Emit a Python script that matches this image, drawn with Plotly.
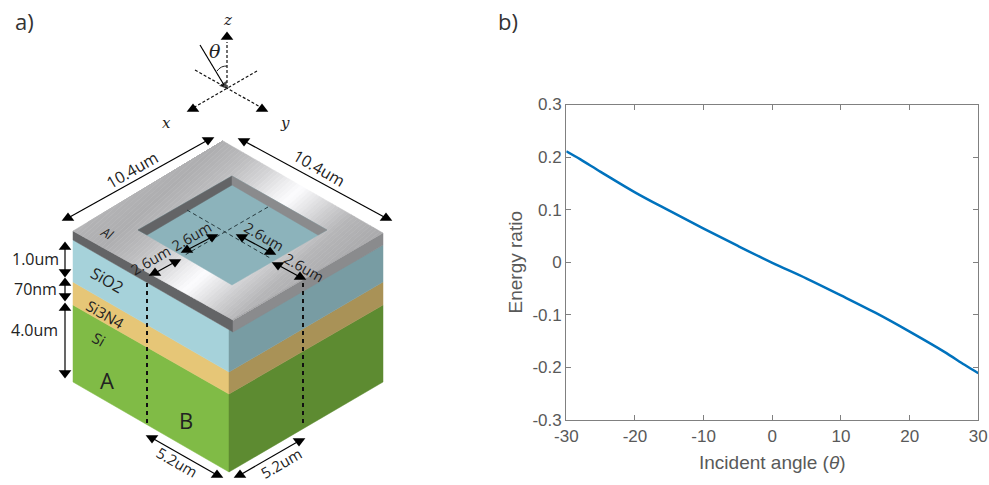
import plotly.graph_objects as go

W, H = 989, 485

# ---- chart b) data ----
angle = [-30, -28, -25, -20, -15, -10, -5, 0, 5, 10, 15, 20, 25, 28, 30]
energy_ratio = [0.211, 0.196, 0.172, 0.133, 0.098, 0.064, 0.031, -0.001,
                -0.031, -0.063, -0.096, -0.132, -0.170, -0.195, -0.211]
x_ticks = [-30, -20, -10, 0, 10, 20, 30]
x_tick_labels = ["-30", "-20", "-10", "0", "10", "20", "30"]
y_ticks = [-0.3, -0.2, -0.1, 0, 0.1, 0.2, 0.3]
y_tick_labels = ["-0.3", "-0.2", "-0.1", "0", "0.1", "0.2", "0.3"]

# ---- diagram a) geometry, in picture pixels ----
side_layers = [
    ("#80BB46", [(73, 305), (229, 394), (229, 472), (73, 382)]),
    ("#5D8B31", [(229, 394), (383, 305), (383, 382), (229, 472)]),
    ("#E6C677", [(73, 282), (229, 372), (229, 394), (73, 305)]),
    ("#A99257", [(229, 372), (383, 282), (383, 305), (229, 394)]),
    ("#A6D2DA", [(73, 240), (229, 330), (229, 372), (73, 282)]),
    ("#789CA3", [(229, 330), (383, 245), (383, 282), (229, 372)]),
    ("#636466", [(73, 231), (233, 320), (233, 332), (73, 240)]),
    ("#8A8B8D", [(233, 320), (383, 233), (383, 245), (233, 332)]),
]
hole_layers = [
    ("#8CB3BB", [(138, 230), (232, 176), (327, 230), (232, 285)]),
    ("#636466", [(138, 230), (232, 176), (232, 185), (147, 235)]),
    ("#8A8B8D", [(232, 176), (327, 230), (318, 235), (232, 185)]),
]
# Al top face: corners back, right, left, front
top_back, top_right, top_left, top_front = (223, 141), (383, 233), (73, 231), (233, 320)
# sheen across the Al face: (position, grey level)
sheen_stops = [(-0.19, 180), (0.0, 174), (0.15, 188), (0.3, 212), (0.42, 238), (0.5, 252),
               (0.6, 228), (0.72, 200), (0.81, 182), (1.0, 170)]
sheen_skew = 0.19
sheen_strips = 60

dashed_thin = [
    [(187, 210), (270, 258)],
    [(268, 207), (185, 255)],
]
dashed_drop = [
    [(147, 283), (147, 423)],
    [(303, 283), (303, 427)],
]
dotted_axes = [
    [(227, 88), (227, 42)],
    [(257, 71), (193, 108)],
    [(195, 70), (262, 108)],
]
double_arrows = [
    [(68, 218), (208, 140)],
    [(244, 141), (386, 218)],
    [(65, 247), (65, 272)],
    [(65, 283), (65, 296)],
    [(65, 308), (65, 373)],
    [(152, 438), (217, 475)],
    [(240, 475), (299, 441)],
    [(155, 273), (175, 262)],
    [(187, 250), (212, 237)],
    [(242, 237), (270, 252)],
    [(278, 265), (300, 277)],
]
arrow_symbols = [
    ("triangle-up", "triangle-down"),
    ("triangle-down", "triangle-up"),
    ("triangle-up", "triangle-down"),
    ("triangle-up", "triangle-down"),
    ("triangle-up", "triangle-down"),
    ("triangle-down", "triangle-up"),
    ("triangle-up", "triangle-down"),
    ("triangle-up", "triangle-down"),
    ("triangle-up", "triangle-down"),
    ("triangle-down", "triangle-up"),
    ("triangle-down", "triangle-up"),
]
axis_heads = [(227, 37), (193, 109), (262, 109)]
incident_ray = [(200, 45), (224, 85)]
theta_arc = [(217, 71), (220, 68), (223, 66.5), (227, 66)]

labels = [
    ("a)", 24, 21, 22, 0, "#333333", "Open Sans"),
    ("b)", 508, 21, 22, 0, "#333333", "Open Sans"),
    ("<i>z</i>", 227, 20, 15, 0, "#222222", "DejaVu Serif"),
    ("<i>x</i>", 166, 123, 15, 0, "#222222", "DejaVu Serif"),
    ("<i>y</i>", 285, 123, 15, 0, "#222222", "DejaVu Serif"),
    ("<i>θ</i>", 215, 51, 19, 0, "#222222", "DejaVu Serif"),
    ("10.4um", 132, 170, 16, -30, "#222222", "Open Sans"),
    ("10.4um", 319, 168, 16, 30, "#222222", "Open Sans"),
    ("<i>Al</i>", 107, 233, 13, 30, "#222222", "Open Sans"),
    ("1.0um", 35, 259, 16, 0, "#222222", "Open Sans"),
    ("70nm", 35, 289, 16, 0, "#222222", "Open Sans"),
    ("4.0um", 34, 330, 16, 0, "#222222", "Open Sans"),
    ("SiO2", 107, 280, 16, 30, "#222222", "Open Sans"),
    ("Si3N4", 105, 314, 15, 30, "#222222", "Open Sans"),
    ("Si", 99, 339, 15, 30, "#222222", "Open Sans"),
    ("A", 107, 380, 22, 0, "#222222", "Open Sans"),
    ("B", 186, 420, 22, 0, "#222222", "Open Sans"),
    ("5.2um", 177, 462, 15, 30, "#222222", "Open Sans"),
    ("5.2um", 281, 463, 15, -30, "#222222", "Open Sans"),
    ("2.6um", 150, 260, 14.5, -30, "#222222", "Open Sans"),
    ("2.6um", 191, 236, 14.5, -30, "#222222", "Open Sans"),
    ("2.6um", 264, 236, 14.5, 30, "#222222", "Open Sans"),
    ("2.6um", 304, 267, 14.5, 30, "#222222", "Open Sans"),
]

fig = go.Figure()


def xs(pts, close=False):
    v = [p[0] for p in pts]
    return v + v[:1] if close else v


def ys(pts, close=False):
    v = [p[1] for p in pts]
    return v + v[:1] if close else v


def add(**kw):
    fig.add_trace(go.Scatter(xaxis="x2", yaxis="y2", showlegend=False,
                             hoverinfo="skip", **kw))


def poly(colour, pts):
    add(x=xs(pts, True), y=ys(pts, True), mode="lines", fill="toself",
        fillcolor=colour, line=dict(color=colour, width=0.5))


def top_point(u, v):
    # bilinear position on the Al face: u runs back->right, v runs back->left
    u = min(1.0, max(0.0, u))
    px = [(1 - u) * a + u * b for a, b in zip(top_back, top_right)]
    qx = [(1 - u) * a + u * b for a, b in zip(top_left, top_front)]
    return tuple((1 - v) * a + v * b for a, b in zip(px, qx))


def sheen_grey(s):
    for (a, ga), (b, gb) in zip(sheen_stops, sheen_stops[1:]):
        if s <= b:
            return round(ga + (gb - ga) * (s - a) / (b - a))
    return sheen_stops[-1][1]


for colour, pts in side_layers:
    poly(colour, pts)

first, last = sheen_stops[0][0], sheen_stops[-1][0]
step = (last - first) / sheen_strips
for i in range(sheen_strips):
    s0 = first + i * step
    s1 = s0 + step
    vs = [k / 10 for k in range(11)]
    outline = [top_point(s0 + sheen_skew * v, v) for v in vs] + \
              [top_point(s1 + sheen_skew * v, v) for v in reversed(vs)]
    g = sheen_grey((s0 + s1) / 2)
    poly(f"rgb({g},{g},{min(255, g + 2)})", outline)

for colour, pts in hole_layers:
    poly(colour, pts)

for seg in dashed_thin:
    add(x=xs(seg), y=ys(seg), mode="lines",
        line=dict(color="#26393D", width=1, dash="4px,3px"))
for seg in dashed_drop:
    add(x=xs(seg), y=ys(seg), mode="lines",
        line=dict(color="#111111", width=2, dash="4px,4px"))
for seg in dotted_axes:
    add(x=xs(seg), y=ys(seg), mode="lines",
        line=dict(color="#111111", width=1.2, dash="3px,2px"))

for seg, syms in zip(double_arrows, arrow_symbols):
    add(x=xs(seg), y=ys(seg), mode="lines+markers",
        line=dict(color="#000000", width=1.2),
        marker=dict(symbol=list(syms), size=11, color="#000000", line=dict(width=0)))

add(x=xs(axis_heads), y=ys(axis_heads), mode="markers",
    marker=dict(symbol="triangle-up", size=11, color="#000000", line=dict(width=0)))
add(x=xs(incident_ray), y=ys(incident_ray), mode="lines+markers",
    line=dict(color="#000000", width=1.2),
    marker=dict(symbol=["line-ew", "triangle-up"], size=[0, 8], angle=[0, 148],
                color="#000000", line=dict(width=0)))
add(x=xs(theta_arc), y=ys(theta_arc), mode="lines",
    line=dict(color="#222222", width=1, shape="spline"))

# chart b)
fig.add_trace(go.Scatter(x=angle, y=energy_ratio, mode="lines", showlegend=False,
                         line=dict(color="#0072BD", width=2.5, shape="spline", smoothing=1)))

plot_left, plot_right, plot_top, plot_bottom = 566.3, 978.3, 104.5, 420.0
axis_style = dict(showgrid=False, zeroline=False, showline=True, linecolor="#808080",
                  linewidth=1.3, mirror="allticks", ticks="inside", ticklen=5,
                  tickcolor="#808080", tickwidth=1.2, automargin=False,
                  tickfont=dict(family="Liberation Sans", size=17, color="#595959"))
title_font = dict(family="Liberation Sans", size=19, color="#595959")

fig.update_layout(
    width=W, height=H, autosize=False,
    margin=dict(l=0, r=0, t=0, b=0, autoexpand=False),
    paper_bgcolor="white", plot_bgcolor="rgba(0,0,0,0)",
    xaxis=dict(domain=[plot_left / W, plot_right / W], range=[-30, 30],
               tickvals=x_ticks, ticktext=x_tick_labels, anchor="y",
               title=dict(text="Incident angle (<i>θ</i>)", standoff=11, font=title_font),
               **axis_style),
    yaxis=dict(domain=[1 - plot_bottom / H, 1 - plot_top / H], range=[-0.3, 0.3],
               tickvals=y_ticks, ticktext=y_tick_labels, anchor="x",
               title=dict(text="Energy ratio", standoff=4, font=title_font),
               **axis_style),
    xaxis2=dict(domain=[0, 1], range=[0, W], visible=False, anchor="y2", fixedrange=True),
    yaxis2=dict(domain=[0, 1], range=[H, 0], visible=False, anchor="x2", fixedrange=True),
    annotations=[
        dict(text=t, x=x, y=y, xref="x2", yref="y2", showarrow=False, textangle=a,
             xanchor="center", yanchor="middle",
             font=dict(size=s, color=c, family=f))
        for t, x, y, s, a, c, f in labels
    ],
)

fig.write_html("out.html", config=dict(displayModeBar=False),
               post_script="document.body.style.margin='0';")
